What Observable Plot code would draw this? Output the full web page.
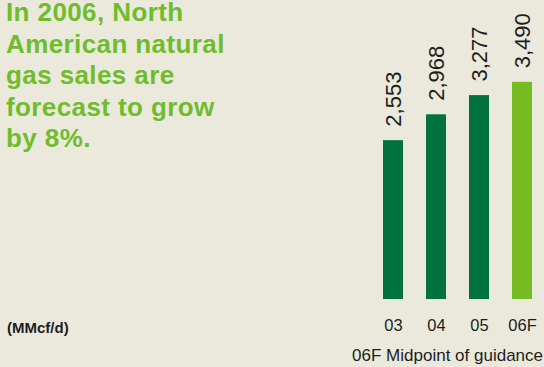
<!DOCTYPE html>
<html>
<head>
<meta charset="utf-8">
<script src="https://cdn.jsdelivr.net/npm/d3@7"></script>
<script src="https://cdn.jsdelivr.net/npm/@observablehq/plot@0.6"></script>
<style>
  html, body { margin: 0; padding: 0; background: #ebe9dc; }
  #wrap { position: relative; width: 544px; height: 367px; overflow: hidden; background: #ebe9dc; font-family: "Liberation Sans", Arial, Helvetica, sans-serif; }
  #title { position: absolute; left: 6px; top: 1px; font-size: 26px; font-weight: bold; color: #6fbd2b; white-space: nowrap; letter-spacing: 0.4px; }
  #title div { line-height: 22px; height: 22px; margin-bottom: 9.5px; }
  #unit { position: absolute; left: 7px; top: 319px; font-size: 15px; line-height: 17px; font-weight: bold; color: #1e1e1e; }
  #note { position: absolute; right: 1px; top: 347px; font-size: 17px; line-height: 17px; color: #1e1e1e; white-space: nowrap; }
  #chart { position: absolute; left: 0; top: 0; }
</style>
</head>
<body>
<div id="wrap">
  <div id="chart"></div>
  <div id="title"><div>In 2006, North</div><div>American natural</div><div>gas sales are</div><div>forecast to grow</div><div>by 8%.</div></div>
  <div id="unit">(MMcf/d)</div>
  <div id="note">06F Midpoint of guidance</div>
</div>
<script>
const categories = ["03", "04", "05", "06F"];
const values = [2553, 2968, 3277, 3490];
const forecastCategory = "06F";

const data = categories.map((c, i) => ({cat: c, value: values[i]}));
const dark = "#00723c";
const light = "#76bc21";

const chart = Plot.plot({
  width: 544,
  height: 367,
  marginLeft: 381,
  marginRight: 11,
  marginTop: 19,
  marginBottom: 68,
  style: {background: "transparent", fontFamily: "'Liberation Sans', Arial, Helvetica, sans-serif", color: "#1e1e1e"},
  x: {domain: categories, paddingInner: 0.545, paddingOuter: 0, axis: null},
  y: {domain: [0, 4500], axis: null},
  marks: [
    Plot.barY(data, {x: "cat", y: "value", fill: d => d.cat === forecastCategory ? light : dark}),
    Plot.text(data, {x: "cat", y: "value", text: d => d3.format(",")(d.value), rotate: -90, textAnchor: "start", dy: -14, fontSize: 22, fill: "#1e1e1e"}),
    Plot.axisX({tickSize: 0, tickPadding: 20, fontSize: 16.5, fill: "#1e1e1e", label: null})
  ]
});
document.getElementById("chart").appendChild(chart);
</script>
</body>
</html>
